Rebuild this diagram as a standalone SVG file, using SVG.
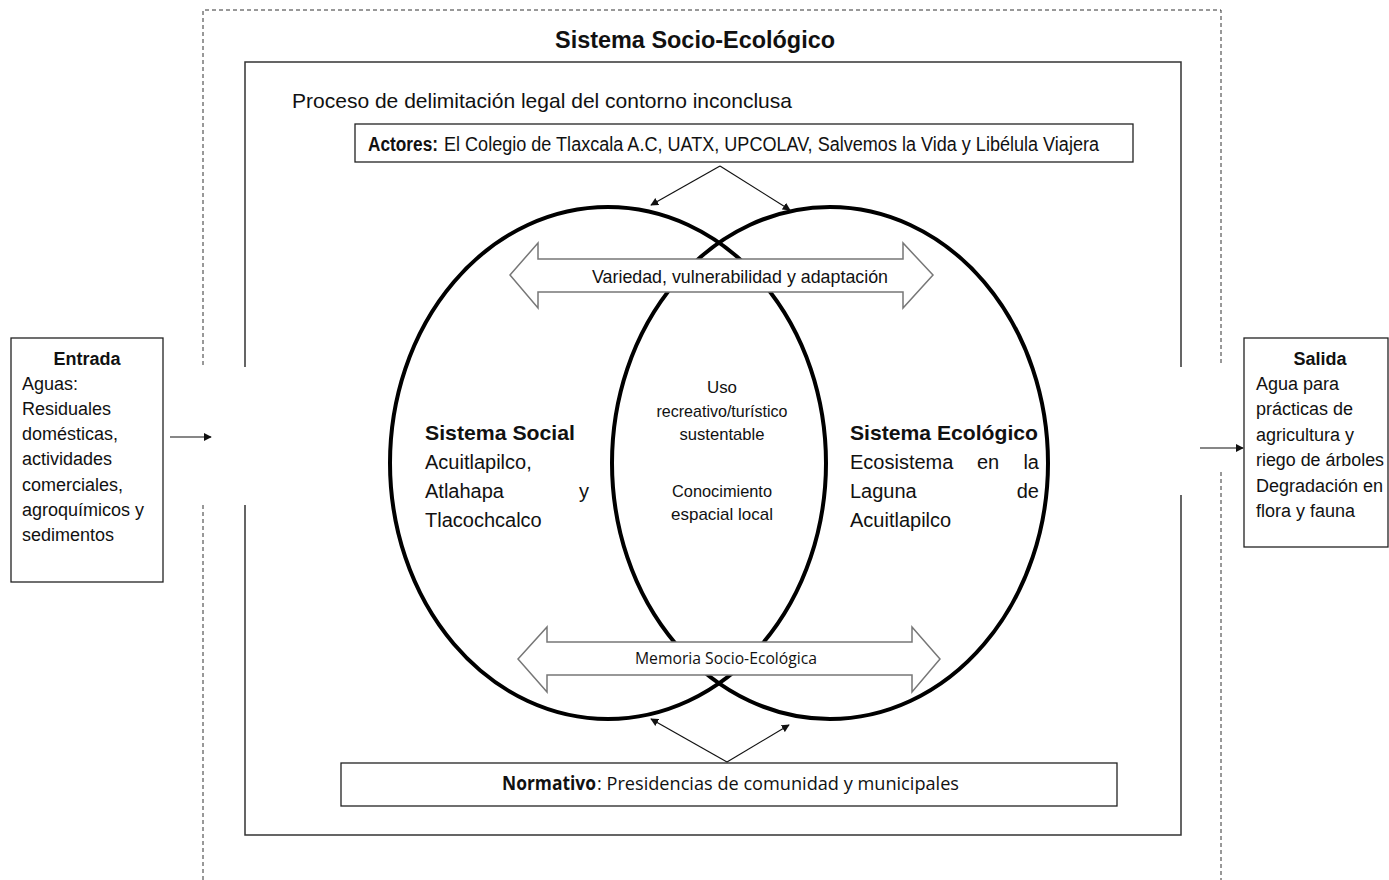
<svg xmlns="http://www.w3.org/2000/svg" width="1389" height="880" viewBox="0 0 1389 880">
<style>
text{font-family:"Liberation Sans",Arial,sans-serif;fill:#111}
.b{font-weight:bold}
.box{fill:#fff;stroke:#222;stroke-width:1.3}
.frame{fill:none;stroke:#333;stroke-width:1.5}
.dash{fill:none;stroke:#333;stroke-width:1;stroke-dasharray:4 3}
.ring{fill:none;stroke:#000;stroke-width:4}
.blk{fill:#fff;stroke:#777;stroke-width:1.5}
.con{fill:none;stroke:#111;stroke-width:1.2}
.cal{font-family:"Open Sans","Liberation Sans",sans-serif}
</style>
<defs>
<marker id="ah" viewBox="0 0 10 10" refX="9" refY="5" markerWidth="8" markerHeight="8" markerUnits="userSpaceOnUse" orient="auto">
<path d="M0,0 L10,5 L0,10 z" fill="#111"/>
</marker>
</defs>
<rect width="1389" height="880" fill="#fff"/>

<g id="outer-frame">
<path class="dash" d="M203,880 V502 M203,365 V10 H1221 V365 M1221,472 V880"/>
</g>
<g id="inner-frame">
<path class="frame" d="M245,367 V62 H1181 V367 M1181,495 V835 H245 V505"/>
</g>

<g id="title">
<text x="695" y="48" class="b" font-size="23" text-anchor="middle" textLength="280" lengthAdjust="spacingAndGlyphs">Sistema Socio-Ecológico</text>
</g>
<g id="proceso">
<text x="292" y="108" font-size="21" textLength="500" lengthAdjust="spacingAndGlyphs">Proceso de delimitación legal del contorno inconclusa</text>
</g>

<g id="actores">
<rect class="box" x="355" y="124" width="778" height="38"/>
<text x="368" y="151" class="b" font-size="20" textLength="70" lengthAdjust="spacingAndGlyphs">Actores:</text>
<text x="444" y="151" font-size="20" textLength="655" lengthAdjust="spacingAndGlyphs">El Colegio de Tlaxcala A.C, UATX, UPCOLAV, Salvemos la Vida y Libélula Viajera</text>
</g>

<g id="sistema-social-circle">
<ellipse class="ring" cx="608" cy="463" rx="218" ry="256"/>
</g>
<g id="sistema-ecologico-circle">
<ellipse class="ring" cx="830" cy="463" rx="218" ry="256"/>
</g>

<g id="variedad">
<polygon class="blk" points="510,275 538,243 538,259 903,259 903,243 933,275 903,308 903,292 538,292 538,308"/>
<text x="740" y="283" font-size="19" fill="#222" text-anchor="middle" textLength="296" lengthAdjust="spacingAndGlyphs">Variedad, vulnerabilidad  y adaptación</text>
</g>

<g id="memoria">
<polygon class="blk" points="518,659 547,627 547,642 912,642 912,627 940,659 912,692 912,675 547,675 547,692"/>
<text x="726" y="664" class="cal" font-size="16" fill="#333" text-anchor="middle" textLength="182" lengthAdjust="spacingAndGlyphs">Memoria Socio-Ecológica</text>
</g>

<g id="sistema-social">
<text x="425" y="440" class="b" font-size="21" textLength="150" lengthAdjust="spacingAndGlyphs">Sistema Social</text>
<text x="425" y="469" font-size="20">Acuitlapilco,</text>
<text x="425" y="498" font-size="20">Atlahapa</text>
<text x="589" y="498" font-size="20" text-anchor="end">y</text>
<text x="425" y="527" font-size="20">Tlacochcalco</text>
</g>

<g id="sistema-ecologico">
<text x="850" y="440" class="b" font-size="21" textLength="188" lengthAdjust="spacingAndGlyphs">Sistema Ecológico</text>
<text x="850" y="469" font-size="20">Ecosistema</text>
<text x="988" y="469" font-size="20" text-anchor="middle">en</text>
<text x="1039" y="469" font-size="20" text-anchor="end">la</text>
<text x="850" y="498" font-size="20">Laguna</text>
<text x="1039" y="498" font-size="20" text-anchor="end">de</text>
<text x="850" y="527" font-size="20">Acuitlapilco</text>
</g>

<g id="interseccion">
<text x="722" y="393" font-size="17" fill="#222" text-anchor="middle" textLength="30" lengthAdjust="spacingAndGlyphs">Uso</text>
<text x="722" y="417" font-size="17" fill="#222" text-anchor="middle" textLength="131" lengthAdjust="spacingAndGlyphs">recreativo/turístico</text>
<text x="722" y="440" font-size="17" fill="#222" text-anchor="middle" textLength="85" lengthAdjust="spacingAndGlyphs">sustentable</text>
<text x="722" y="497" font-size="17" fill="#222" text-anchor="middle" textLength="100" lengthAdjust="spacingAndGlyphs">Conocimiento</text>
<text x="722" y="520" font-size="17" fill="#222" text-anchor="middle" textLength="102" lengthAdjust="spacingAndGlyphs">espacial local</text>
</g>

<g id="normativo">
<rect class="box" x="341" y="763" width="776" height="43"/>
<text x="502" y="790" class="cal b" font-size="19" textLength="94" lengthAdjust="spacingAndGlyphs">Normativo</text>
<text x="597" y="790" class="cal" font-size="19" textLength="362" lengthAdjust="spacingAndGlyphs">: Presidencias de comunidad y municipales</text>
</g>

<g id="entrada">
<rect class="box" x="11" y="338" width="152" height="244"/>
<text x="87" y="365" class="b" font-size="18" text-anchor="middle">Entrada</text>
<text x="22" y="390" font-size="18">Aguas:</text>
<text x="22" y="415" font-size="18">Residuales</text>
<text x="22" y="440" font-size="18">domésticas,</text>
<text x="22" y="465" font-size="18">actividades</text>
<text x="22" y="491" font-size="18">comerciales,</text>
<text x="22" y="516" font-size="18">agroquímicos y</text>
<text x="22" y="541" font-size="18">sedimentos</text>
</g>

<g id="salida">
<rect class="box" x="1244" y="338" width="144" height="209"/>
<text x="1320" y="365" class="b" font-size="18" text-anchor="middle">Salida</text>
<text x="1256" y="390" font-size="18">Agua para</text>
<text x="1256" y="415" font-size="18">prácticas de</text>
<text x="1256" y="441" font-size="18">agricultura  y</text>
<text x="1256" y="466" font-size="18" textLength="128" lengthAdjust="spacingAndGlyphs">riego de árboles</text>
<text x="1256" y="492" font-size="18">Degradación en</text>
<text x="1256" y="517" font-size="18">flora y fauna</text>
</g>

<g id="connectors">
<path class="con" d="M720,166 L651,205" marker-end="url(#ah)"/>
<path class="con" d="M720,166 L790,210" marker-end="url(#ah)"/>
<path class="con" d="M727,762 L651,719" marker-end="url(#ah)"/>
<path class="con" d="M727,762 L789,725" marker-end="url(#ah)"/>
<path class="con" d="M170,437 L211,437" marker-end="url(#ah)"/>
<path class="con" d="M1200,448 L1243,448" marker-end="url(#ah)"/>
</g>
</svg>
